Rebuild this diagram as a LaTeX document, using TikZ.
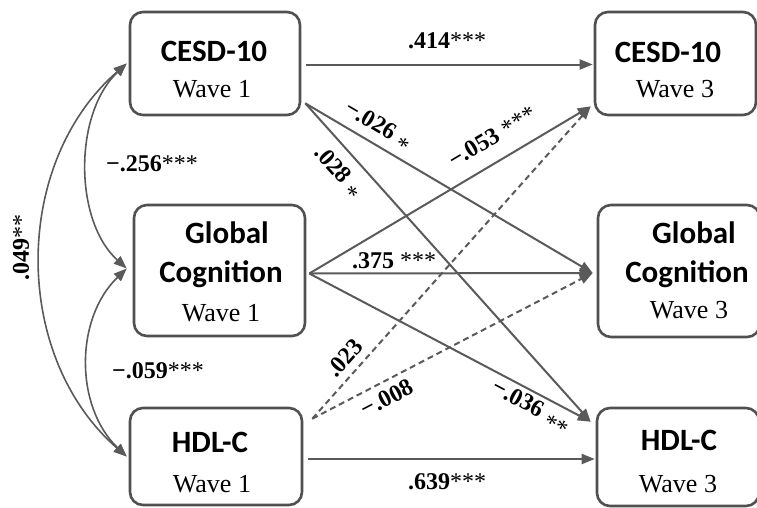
\documentclass[tikz,border=0pt]{standalone}
\usepackage{fontspec}
\setmainfont{Liberation Serif}
\newfontfamily\carlito{Carlito}
\usetikzlibrary{arrows.meta,calc}
\definecolor{lc}{HTML}{5A5A5A}
\definecolor{bc}{HTML}{505050}
\tikzset{
 box/.style={draw=bc, line width=2.6pt, rounded corners=13pt, inner sep=0pt},
 ttl/.style={font=\carlito\bfseries\fontsize{31}{31}\selectfont, anchor=base, inner sep=0pt},
 wv/.style={font=\fontsize{26}{26}\selectfont, anchor=base, inner sep=0pt},
 lbl/.style={font=\bfseries\fontsize{24}{24}\selectfont, inner sep=0pt, text=black},
 tip/.style={},
 arr/.style={draw=lc, line width=2pt, -{Triangle[length=13pt,width=10pt]}},
 darr/.style={arr, dash pattern=on 6pt off 4pt},
 cov/.style={draw=lc, line width=1.6pt, {Triangle[length=13pt,width=10pt]}-{Triangle[length=13pt,width=10pt]}},
}
\newcommand{\st}[1]{\textmd{#1}}
\newcommand{\lst}[1]{\raisebox{-0.3em}{\textmd{#1}}}
\begin{document}
\begin{tikzpicture}[x=1pt,y=-1pt]
\useasboundingbox (0,0) rectangle (757,507);
\clip (0,0) rectangle (757,507);
% boxes
\node[box, minimum width=170pt, minimum height=103pt] (c1) at (215,63.5) {};
\node[box, minimum width=171pt, minimum height=131pt] (g1) at (219.5,270.5) {};
\node[box, minimum width=172pt, minimum height=97pt] (h1) at (216,456.5) {};
\node[box, minimum width=161pt, minimum height=103pt] (c3) at (675.5,63.5) {};
\node[box, minimum width=162pt, minimum height=132pt] (g3) at (679,271) {};
\node[box, minimum width=162pt, minimum height=98pt] (h3) at (678,457) {};
% box texts
\node[ttl] (c1t) at (214,61) {CESD-10};
\node[wv] (c1w) at (212,97) {Wave 1};
\node[ttl] (g1t) at (227,243) {Global};
\node[ttl] (g1u) at (221,282) {Cognition};
\node[wv] (g1w) at (221,321) {Wave 1};
\node[ttl] (h1t) at (210,452) {HDL-C};
\node[wv] (h1w) at (212,492) {Wave 1};
\node[ttl] (c3t) at (668,62) {CESD-10};
\node[wv] (c3w) at (675,97) {Wave 3};
\node[ttl] (g3t) at (694,243) {Global};
\node[ttl] (g3u) at (687,282) {Cognition};
\node[wv] (g3w) at (689,318) {Wave 3};
\node[ttl] (h3t) at (679,450) {HDL-C};
\node[wv] (h3w) at (678,492) {Wave 3};
% straight paths
\draw[arr] ($(c1.east)+(5,1)$) -- ($(c3.west)+(-1,1)$);
\draw[arr] ($(h1.east)+(5,2.5)$) -- ($(h3.west)+(-1,2)$);
\draw[arr] ($(g1.east)+(3,3)$) -- ($(g3.west)+(-4,2)$);
\draw[arr] ($(c1.south east)+(4,-13)$) -- ($(g3.west)+(-4,2)$);
\draw[arr] ($(c1.south east)+(4,-13)$) -- ($(h3.north west)+(-5,15)$);
\draw[arr] ($(g1.east)+(3,3)$) -- ($(c3.south west)+(-3,-10)$);
\draw[arr] ($(g1.east)+(3,3)$) -- ($(h3.north west)+(-5,15)$);
\draw[darr] ($(h1.north east)+(9,12)$) -- ($(c3.south west)+(-3,-10)$);
\draw[darr] ($(h1.north east)+(9,12)$) -- ($(g3.west)+(-4,2)$);
% covariances
\draw[cov] ($(c1.west)+(-2,0)$) .. controls ($(c1.west)+(-117,100)$) and ($(h1.west)+(-117,-100)$) .. ($(h1.west)+(-2,0)$);
\draw[cov] ($(c1.west)+(-2,0)$) .. controls ($(c1.west)+(-55,50)$) and ($(g1.west)+(-59,-50)$) .. ($(g1.west)+(-6,-2)$);
\draw[cov] ($(g1.west)+(-6,-2)$) .. controls ($(g1.west)+(-58,48)$) and ($(h1.west)+(-54,-50)$) .. ($(h1.west)+(-2,0)$);
% labels
\node[lbl] (l1) at (447,41) {.414\st{***}};
\node[lbl, rotate=-30.4] (l2) at (377,127) {−.026 \lst{*}};
\node[lbl, rotate=-48.1] (l3) at (337,173) {.028 \lst{*}};
\node[lbl, rotate=30.8] (l4) at (492,137) {−.053 \st{***}};
\node[lbl] (l5) at (394,261) {.375 \st{***}};
\node[lbl, rotate=48.3] (l6) at (345,358) {.023};
\node[lbl, rotate=27.4] (l7) at (387,398) {−.008};
\node[lbl, rotate=-27.7] (l8) at (530,408) {−.036 \lst{**}};
\node[lbl] (l9) at (447,482) {.639\st{***}};
\node[lbl] (l10) at (152,164) {−.256\st{***}};
\node[lbl] (l11) at (158,371) {−.059\st{***}};
\node[lbl, rotate=90] (l12) at (21,247) {.049\st{**}};
\end{tikzpicture}
\end{document}
